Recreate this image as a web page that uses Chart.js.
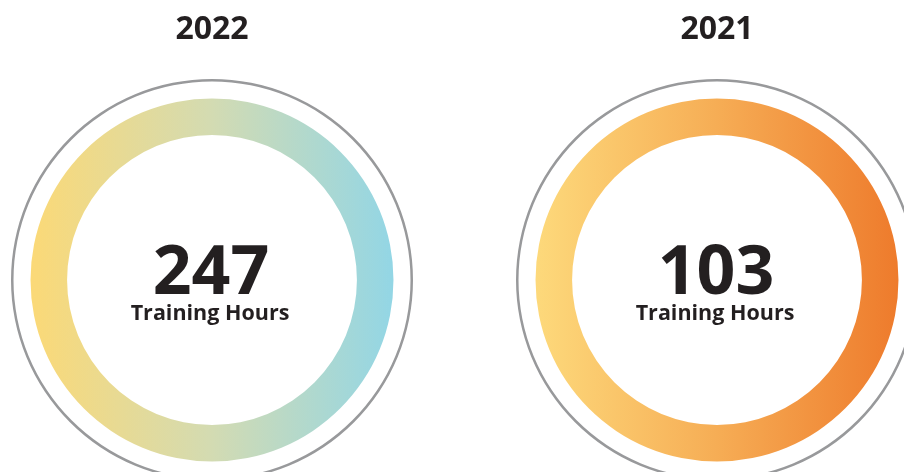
<!DOCTYPE html>
<html>
<head>
<meta charset="utf-8">
<script src="https://cdn.jsdelivr.net/npm/chart.js@4"></script>
<style>
    html, body { margin: 0; padding: 0; background: #fff; width: 904px; height: 472px; overflow: hidden; }
    canvas { position: absolute; top: 0; }
</style>
</head>
<body>
<canvas id="chart2022" width="402" height="481" style="left: 11px;"></canvas>
<canvas id="chart2021" width="402" height="481" style="left: 516px;"></canvas>
<script>
const years = ['2022', '2021'];
const trainingHours = [247, 103];
const unitLabel = 'Training Hours';
const ringGradients = [
    ['#fbd977', '#d3dbb2', '#93d6e5'],
    ['#fdd97b', '#f6ad55', '#ee7b2c']
];
const outlineColor = '#98999b';

// gradient runs left-to-right across the ring
function ringGradient(context, stops) {
    const area = context.chart.chartArea;
    if (!area) return stops[0];
    const g = context.chart.ctx.createLinearGradient(area.left + 20, 0, area.right - 20, 0);
    stops.forEach((c, i) => g.addColorStop(i / (stops.length - 1), c));
    return g;
}

const centerText = {
    id: 'centerText',
    afterDraw(chart, args, opts) {
        const arc = chart.getDatasetMeta(2).data[0];
        if (!arc) return;
        const ctx = chart.ctx;
        ctx.save();
        ctx.fillStyle = '#231f20';
        ctx.textAlign = 'center';
        ctx.textBaseline = 'alphabetic';
        ctx.font = 'bold 68px "Open Sans"';
        ctx.fillText(String(opts.value), arc.x - 1, arc.y + 14);
        ctx.font = 'bold 21.5px "Open Sans"';
        ctx.fillText(opts.label, arc.x - 2, arc.y + 40);
        ctx.restore();
    }
};

function createRing(canvasId, idx) {
    const value = trainingHours[idx];
    const arcBase = { borderWidth: 0, hoverOffset: 0, offset: 0 };
    new Chart(document.getElementById(canvasId), {
        type: 'doughnut',
        data: {
            labels: [unitLabel],
            datasets: [
                { data: [value], backgroundColor: outlineColor, weight: 2.5, ...arcBase },
                { data: [value], backgroundColor: 'rgba(0,0,0,0)', weight: 17, ...arcBase },
                { data: [value], backgroundColor: ctx => ringGradient(ctx, ringGradients[idx]), weight: 36.5, ...arcBase }
            ]
        },
        options: {
            responsive: false,
            animation: false,
            cutout: '72.1%',
            layout: { padding: 0 },
            events: [],
            plugins: {
                legend: { display: false },
                tooltip: { enabled: false },
                title: {
                    display: true,
                    text: years[idx],
                    color: '#231f20',
                    font: { family: 'Open Sans', size: 32, weight: 'bold', lineHeight: 1.2 },
                    padding: { top: 11, bottom: 29.6 }
                },
                centerText: { value: value, label: unitLabel }
            }
        },
        plugins: [centerText]
    });
}

createRing('chart2022', 0);
createRing('chart2021', 1);
</script>
</body>
</html>
